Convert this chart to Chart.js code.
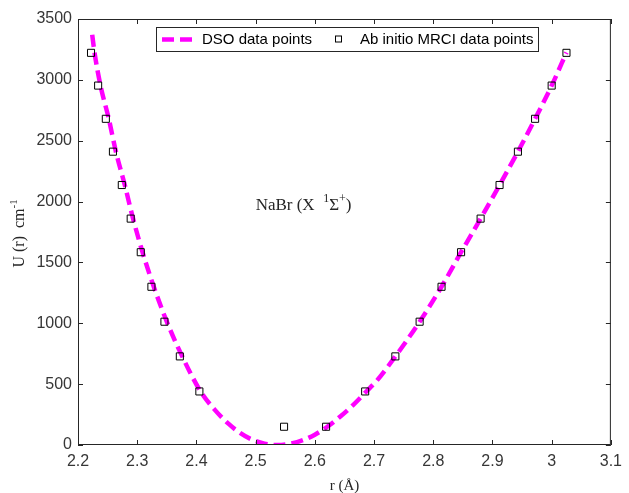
<!DOCTYPE html>
<html>
<head>
<meta charset="utf-8">
<script src="https://cdn.jsdelivr.net/npm/chart.js@4.4.0/dist/chart.umd.min.js"></script>
<style>
  html, body { margin: 0; padding: 0; background: #fff; }
</style>
</head>
<body>
<canvas id="potChart" width="629" height="493"></canvas>
<script>
'use strict';
// DSO curve
const dsoR = [2.224, 2.228, 2.238, 2.252, 2.264, 2.279, 2.293, 2.309, 2.328, 2.350, 2.376, 2.407,
  2.430, 2.454, 2.475, 2.493, 2.515, 2.537, 2.560, 2.581, 2.600, 2.621, 2.643, 2.665, 2.687,
  2.704, 2.736, 2.777, 2.814, 2.847, 2.880, 2.912, 2.943, 2.972, 3.000, 3.025];
const dsoU = [3370, 3222, 2953, 2680, 2410, 2136, 1860, 1584, 1300, 1013, 728, 440,
  295, 175, 95, 46, 11, 0, 12, 42, 85, 150, 234, 330, 440,
  525, 728, 1013, 1300, 1584, 1860, 2136, 2410, 2680, 2953, 3225];

// ab initio MRCI points
const mrciR = [2.222, 2.234, 2.247, 2.259, 2.274, 2.289, 2.306, 2.324, 2.346, 2.372, 2.405, 2.548,
  2.619, 2.685, 2.736, 2.777, 2.814, 2.847, 2.880, 2.912, 2.943, 2.972, 3.000, 3.025];
const mrciU = [3222, 2953, 2680, 2410, 2136, 1860, 1584, 1300, 1013, 728, 440, 150,
  150, 440, 728, 1013, 1300, 1584, 1860, 2136, 2410, 2680, 2953, 3222];

const xTicks = [2.2, 2.3, 2.4, 2.5, 2.6, 2.7, 2.8, 2.9, 3.0, 3.1];
const yTicks = [0, 500, 1000, 1500, 2000, 2500, 3000, 3500];

const axisColor = '#262626';
const labelColor = '#363636';
const tickFont = { family: 'Liberation Sans', size: 16 };
const serif = '"Liberation Serif"';

// writes pieces one after another, pieces with sup=true are raised and smaller
function drawRich(ctx, parts, x, y, size) {
  let cx = x;
  parts.forEach(p => {
    ctx.font = (p.sup ? Math.round(size * 0.7) : size) + 'px ' + serif;
    ctx.fillText(p.t, cx, p.sup ? y - size * 0.45 : y);
    cx += ctx.measureText(p.t).width;
  });
  return cx - x;
}

// box, inner ticks, legend, note and axis titles like the matlab figure
const figurePlugin = {
  id: 'figure',
  afterDraw(chart) {
    const ctx = chart.ctx;
    const a = chart.chartArea;
    const xs = chart.scales.x, ys = chart.scales.y;
    ctx.save();
    ctx.strokeStyle = axisColor;
    ctx.lineWidth = 1;
    ctx.strokeRect(a.left + 0.5, a.top + 0.5, a.right - a.left - 1, a.bottom - a.top - 1);
    ctx.beginPath();
    xTicks.forEach(v => {
      const px = Math.round(xs.getPixelForValue(v)) + 0.5;
      ctx.moveTo(px, a.bottom); ctx.lineTo(px, a.bottom - 5);
      ctx.moveTo(px, a.top); ctx.lineTo(px, a.top + 5);
    });
    yTicks.forEach(v => {
      const py = Math.round(ys.getPixelForValue(v)) + 0.5;
      ctx.moveTo(a.left, py); ctx.lineTo(a.left + 5, py);
      ctx.moveTo(a.right, py); ctx.lineTo(a.right - 5, py);
    });
    ctx.stroke();

    // legend
    const ds0 = chart.data.datasets[0], ds1 = chart.data.datasets[1];
    const lx = 156, ly = 27, lw = 382, lh = 24;
    ctx.fillStyle = '#fff';
    ctx.fillRect(lx, ly, lw, lh);
    ctx.strokeStyle = axisColor;
    ctx.strokeRect(lx + 0.5, ly + 0.5, lw, lh);
    const cy = ly + lh / 2 + 0.5;
    ctx.strokeStyle = ds0.borderColor;
    ctx.lineWidth = ds0.borderWidth;
    ctx.setLineDash(ds0.borderDash);
    ctx.beginPath();
    ctx.moveTo(162, cy); ctx.lineTo(195, cy);
    ctx.stroke();
    ctx.setLineDash([]);
    ctx.strokeStyle = ds1.borderColor;
    ctx.lineWidth = 1;
    ctx.strokeRect(335.5, cy - 3.5, 6, 6);
    ctx.fillStyle = '#000';
    ctx.font = '15px "Liberation Sans"';
    ctx.textBaseline = 'middle';
    ctx.textAlign = 'left';
    ctx.fillText(ds0.label, 202, cy);
    ctx.fillText(ds1.label, 360, cy);

    // molecule note
    ctx.fillStyle = axisColor;
    ctx.textBaseline = 'alphabetic';
    drawRich(ctx, [{ t: 'NaBr (X  ' }, { t: '1', sup: true }, { t: '\u03a3' }, { t: '+', sup: true }, { t: ')' }],
      xs.getPixelForValue(2.5), ys.getPixelForValue(1930), 17);

    // axis titles
    ctx.font = '15px ' + serif;
    ctx.textAlign = 'center';
    ctx.fillText('r (\u00c5)', (a.left + a.right) / 2, 490);
    ctx.translate(24, 233);
    ctx.rotate(-Math.PI / 2);
    ctx.textAlign = 'left';
    ctx.font = '16px ' + serif;
    const full = ctx.measureText('U (r)  cm').width + 10;
    drawRich(ctx, [{ t: 'U (r)  cm' }, { t: '-1', sup: true }], -full / 2, 0, 16);
    ctx.restore();
  }
};

const ctx = document.getElementById('potChart').getContext('2d');
const potChart = new Chart(ctx, {
  type: 'scatter',
  data: {
    datasets: [
      {
        label: 'DSO data points',
        data: dsoR.map((r, i) => ({ x: r, y: dsoU[i] })),
        showLine: true,
        borderColor: '#ff00ff',
        borderWidth: 4.5,
        borderDash: [12, 6],
        pointRadius: 0,
        cubicInterpolationMode: 'monotone',
        fill: false,
        order: 2
      },
      {
        label: 'Ab initio MRCI data points',
        data: mrciR.map((r, i) => ({ x: r, y: mrciU[i] })),
        showLine: false,
        pointStyle: 'rect',
        pointRadius: 5,
        borderColor: '#000',
        borderWidth: 1,
        backgroundColor: 'rgba(0,0,0,0)',
        order: 1
      }
    ]
  },
  options: {
    responsive: false,
    animation: false,
    layout: { padding: { top: 19, right: 11, left: 0, bottom: 0 } },
    plugins: { legend: { display: false }, tooltip: { enabled: false } },
    scales: {
      x: {
        type: 'linear', min: 2.2, max: 3.1,
        afterBuildTicks: s => { s.ticks = xTicks.map(v => ({ value: v })); },
        afterFit: s => { s.height = 48; },
        grid: { display: false, drawTicks: false },
        border: { display: false },
        ticks: { color: labelColor, font: tickFont, padding: 7, maxRotation: 0,
          callback: v => String(Number(v.toFixed(1))) }
      },
      y: {
        type: 'linear', min: 0, max: 3500,
        afterBuildTicks: s => { s.ticks = yTicks.map(v => ({ value: v })); },
        afterFit: s => { s.width = 78; },
        grid: { display: false, drawTicks: false },
        border: { display: false },
        ticks: { color: labelColor, font: tickFont, padding: 6, callback: v => String(v) }
      }
    }
  },
  plugins: [figurePlugin]
});
</script>
</body>
</html>
